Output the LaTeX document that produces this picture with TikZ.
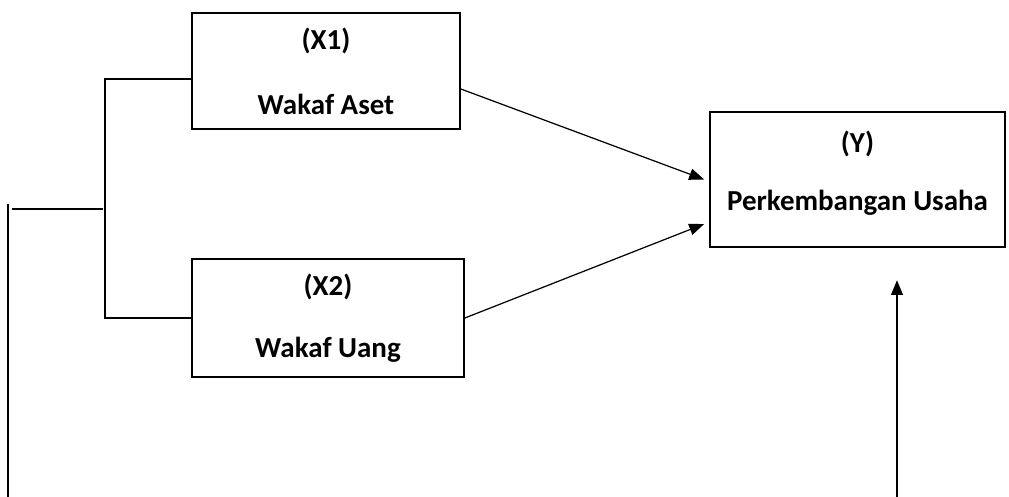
\documentclass[tikz,border=0pt]{standalone}
\usepackage{fontspec}
\setmainfont{Carlito}
\usepackage{tikz}
\usetikzlibrary{calc}
\usetikzlibrary{arrows.meta}
\tikzstyle{varbox} = [rectangle, 
draw=black, 
line width=1pt,
align=center, 
font=\fontsize{16.5}{20}\selectfont\bfseries]
\tikzstyle{arrow} = [line width=0.7pt,->,>={Triangle[length=8.5pt,width=6.5pt]}]
\tikzstyle{link} = [line width=1pt]

\begin{document}
\begin{tikzpicture} [x=0.02cm, y=-0.02cm]
    \useasboundingbox (0,0) rectangle (1009,497);
    \node (x1) [varbox, minimum width=5.36cm, minimum height=2.32cm] at (326,71) {(X1)\\[17pt]Wakaf Aset};
    \node (x2) [varbox, minimum width=5.44cm, minimum height=2.36cm] at (328,318) {(X2)\\[15pt]Wakaf Uang};
    \node (y) [varbox, minimum width=5.9cm, minimum height=2.7cm] at (857.5,179.5) {(Y)\\[13pt]Perkembangan Usaha\\[-10pt]{}};

    \coordinate (top) at (105,79);
    \coordinate (bot) at (105,318);
    \coordinate (mid) at (103,209);
    \coordinate (lft) at (12,209);
    \coordinate (lfttop) at (8,204);
    \coordinate (lftend) at (8,497);
    \coordinate (ybot) at (897,497);
    \coordinate (ytip) at (897,280);

    \draw [link] ([yshift=-0.16cm]x1.west) -- (top) -- (bot) -- (x2.west);
    \draw [link] (mid) -- (lft);
    \draw [link] (lfttop) -- (lftend);
    \draw [arrow] ([yshift=-0.36cm]x1.east) -- ([xshift=-0.1cm]y.west);
    \draw [arrow] (x2.east) -- ([xshift=-0.1cm,yshift=-0.89cm]y.west);
    \draw [arrow, line width=1.5pt] (ybot) -- (ytip);

\end{tikzpicture}
\end{document}
